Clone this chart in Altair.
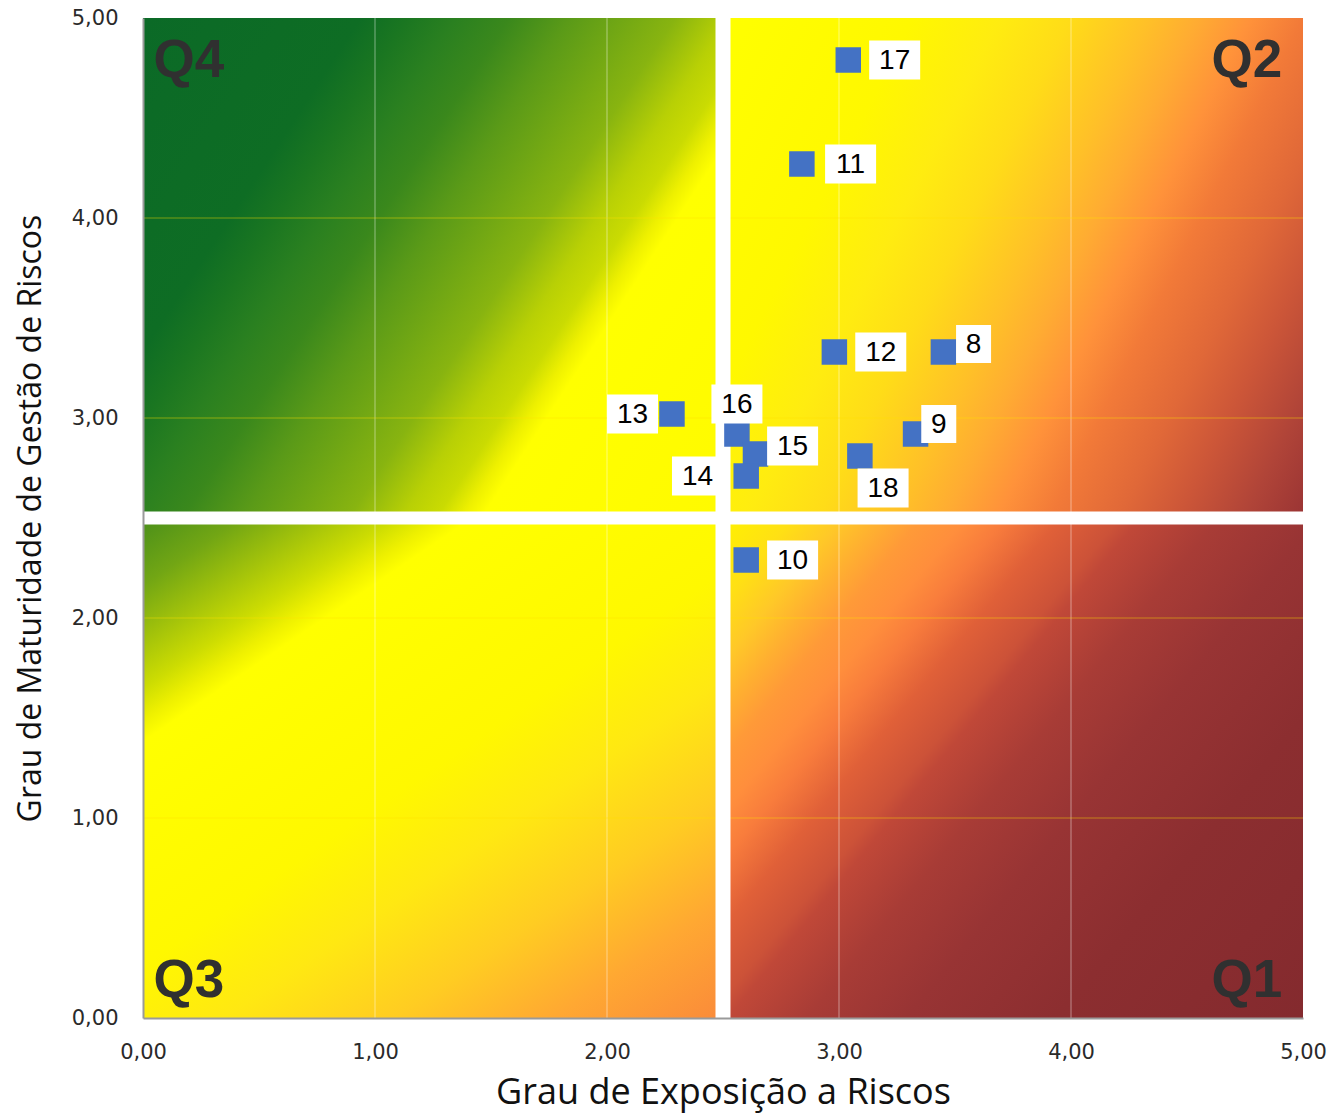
import altair as alt
import pandas as pd

# Units plotted: risk exposure (x) against risk-management maturity (y)
unit_ids = ["17", "11", "12", "8", "13", "16", "15", "14", "18", "9", "10"]
exposure = [3.04, 2.84, 2.98, 3.45, 2.28, 2.56, 2.64, 2.60, 3.09, 3.33, 2.60]
maturity = [4.79, 4.27, 3.33, 3.33, 3.02, 2.92, 2.82, 2.71, 2.81, 2.92, 2.29]
# anchor of each id tag (data units)
tag_x = [3.24, 3.05, 3.18, 3.58, 2.11, 2.56, 2.80, 2.39, 3.19, 3.43, 2.80]
tag_y = [4.79, 4.27, 3.33, 3.37, 3.02, 3.07, 2.86, 2.71, 2.65, 2.97, 2.29]

# Quadrants of the matrix
quadrants = ["Q4", "Q2", "Q3", "Q1"]
quad_x0 = [0, 2.5, 0, 2.5]
quad_x1 = [2.5, 5, 2.5, 5]
quad_y0 = [2.5, 2.5, 0, 0]
quad_y1 = [5, 5, 2.5, 2.5]
quad_label_x = [0.045, 4.91, 0.045, 4.91]
quad_label_y = [4.7075, 4.7075, 0.1065, 0.1065]
quad_label_align = ["left", "right", "left", "right"]

axis_ticks = [0, 1, 2, 3, 4, 5]
grid_values = [1, 2, 3, 4]
divider = [2.5]

pts = pd.DataFrame({"id": unit_ids, "exposure": exposure, "maturity": maturity,
                    "tag_x": tag_x, "tag_y": tag_y})
quad_df = pd.DataFrame({"quadrant": quadrants, "x0": quad_x0, "x1": quad_x1,
                        "y0": quad_y0, "y1": quad_y1, "lx": quad_label_x,
                        "ly": quad_label_y, "align": quad_label_align})
grid_df = pd.DataFrame({"v": grid_values})
div_df = pd.DataFrame({"v": divider})

xs = alt.Scale(domain=[0, 5], nice=False, zero=False)
ys = alt.Scale(domain=[0, 5], nice=False, zero=False)
fmt = "replace(format(datum.value, '.2f'), '.', ',')"

X_AXIS = alt.Axis(values=axis_ticks, labelExpr=fmt, grid=False, ticks=False,
                  labelFlush=False, domainColor="#9a9a9a", domainWidth=2,
                  labelFont="DejaVu Sans", labelFontSize=21, labelColor="#2a2a2a",
                  labelPadding=23, title="Grau de Exposição a Riscos",
                  titleFont="Open Sans", titleFontSize=36, titleFontWeight="normal",
                  titleColor="#111111", titlePadding=13, zindex=1)
Y_AXIS = alt.Axis(values=axis_ticks, labelExpr=fmt, grid=False, ticks=False,
                  labelFlush=False, domainColor="#9a9a9a", domainWidth=2,
                  labelFont="DejaVu Sans", labelFontSize=21, labelColor="#2a2a2a",
                  labelPadding=25, title="Grau de Maturidade de Gestão de Riscos",
                  titleFont="Open Sans", titleFontSize=32, titleFontWeight="normal",
                  titleColor="#111111", titlePadding=24, zindex=1)


def xq(field):
    return alt.X(field, type="quantitative", scale=xs, axis=X_AXIS)


def yq(field):
    return alt.Y(field, type="quantitative", scale=ys, axis=Y_AXIS)


def stops(pairs):
    return [alt.GradientStop(offset=o, color=c) for o, c in pairs]


def linear(x2, y2, pairs):
    return alt.LinearGradient(gradient="linear", x1=0, y1=0, x2=x2, y2=y2,
                              stops=stops(pairs))


# Background shading of each quadrant
grad_q4 = linear(1.186, 0.669,
                 [(0, "#0b6a27"), (0.24, "#0e6d24"), (0.29, "#1a7621"),
                  (0.345, "#2a8020"), (0.404, "#3a881c"), (0.47, "#5a9a18"),
                  (0.587, "#88b410"), (0.646, "#b8d005"), (0.684, "#cadb02"),
                  (0.712, "#eef000"), (0.734, "#ffff00"), (1.0, "#fffa00")])
grad_q2 = linear(1.206, 0.528,
                 [(0, "#ffff00"), (0.228, "#fff800"), (0.333, "#ffec10"),
                  (0.418, "#ffdc18"), (0.512, "#ffc028"), (0.57, "#ffac32"),
                  (0.633, "#ff923a"), (0.696, "#f27a38"), (0.78, "#e06838"),
                  (0.85, "#cc5638"), (0.93, "#b04438"), (1.0, "#9a3434")])
grad_q3 = linear(0.870, 1.104,
                 [(0, "#4a8f1a"), (0.075, "#72a614"), (0.14, "#a5c40a"),
                  (0.19, "#ccdc02"), (0.225, "#eef000"), (0.25, "#ffff00"),
                  (0.5, "#fff800"), (0.62, "#ffe812"), (0.75, "#ffcc22"),
                  (0.87, "#ffa832"), (1.0, "#fa8a3a")])
grad_q1 = linear(1.137, 0.809,
                 [(0, "#fff200"), (0.07, "#ffe014"), (0.12, "#ffc828"),
                  (0.16, "#ffb030"), (0.2, "#ff9a38"), (0.245, "#ff8e3c"),
                  (0.285, "#f87c3c"), (0.34, "#e06038"), (0.40, "#cc5238"),
                  (0.42, "#c04838"), (0.5, "#a83c36"), (0.6, "#983434"),
                  (0.75, "#8c2e30"), (1.0, "#842a2e")])

gradients = {"Q4": grad_q4, "Q2": grad_q2, "Q3": grad_q3, "Q1": grad_q1}

layers = []
for q in quadrants:
    layers.append(alt.Chart(quad_df).transform_filter(alt.datum.quadrant == q)
                  .mark_rect(fill=gradients[q], strokeWidth=0)
                  .encode(x=xq("x0"), x2="x1:Q", y=yq("y0"), y2="y1:Q"))

# light grid lines over the shading
vgrid = alt.Chart(grid_df).mark_rule(color="white", opacity=0.3, strokeWidth=1.5).encode(
    x=xq("v"))
hgrid = alt.Chart(grid_df).mark_rule(color="#ffe000", opacity=0.45, strokeWidth=1.2).encode(
    y=yq("v"))

# white bars splitting the quadrants
vdiv = alt.Chart(div_df).mark_rule(color="white", strokeWidth=15).encode(x=xq("v"))
hdiv = alt.Chart(div_df).mark_rule(color="white", strokeWidth=13).encode(y=yq("v"))

points = alt.Chart(pts).mark_square(size=650, color="#4472C4", opacity=1).encode(
    x=xq("exposure"), y=yq("maturity"))

box2 = alt.Chart(pts).transform_filter("length(datum.id) == 2").mark_rect(
    width=51, height=39, color="white").encode(x=xq("tag_x"), y=yq("tag_y"))
box1 = alt.Chart(pts).transform_filter("length(datum.id) == 1").mark_rect(
    width=35, height=38, color="white").encode(x=xq("tag_x"), y=yq("tag_y"))
tags = alt.Chart(pts).mark_text(font="Liberation Sans", fontSize=28, color="black",
                                baseline="middle", dy=1).encode(
    x=xq("tag_x"), y=yq("tag_y"), text="id:N")

qleft = alt.Chart(quad_df).transform_filter("datum.align == 'left'").mark_text(
    font="Liberation Sans", fontWeight="bold", fontSize=53, color="#303030",
    align="left", baseline="alphabetic").encode(
    x=xq("lx"), y=yq("ly"), text="quadrant:N")
qright = alt.Chart(quad_df).transform_filter("datum.align == 'right'").mark_text(
    font="Liberation Sans", fontWeight="bold", fontSize=53, color="#303030",
    align="right", baseline="alphabetic").encode(
    x=xq("lx"), y=yq("ly"), text="quadrant:N")

chart = alt.layer(*layers, vgrid, hgrid, vdiv, hdiv, points, box2, box1, tags,
                  qleft, qright).properties(
    width=1160, height=1000,
    autosize=alt.AutoSizeParams(type="none"),
    padding={"left": 143, "top": 18, "right": 35, "bottom": 99},
    background="white",
).configure_view(stroke=None)

chart.save("out.html", embed_options={"renderer": "svg", "actions": False})
